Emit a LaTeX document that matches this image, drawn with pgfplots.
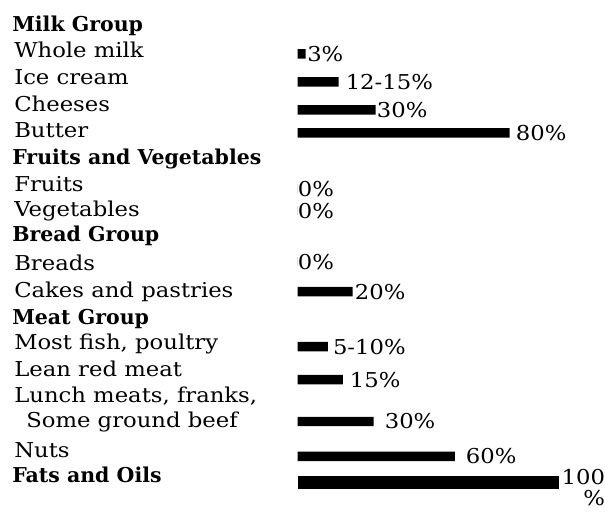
\documentclass[border=0pt]{standalone}
\usepackage{pgfplots}
\pgfplotsset{compat=1.18}
\usepackage{fontspec}
\setmainfont{DejaVu Serif}[FakeStretch=1.11]
\newfontfamily\hdrfont{DejaVu Serif}
\newcommand{\hdr}[1]{{\hdrfont\bfseries #1}}
\newcommand{\lblfont}{\fontsize{20.5}{24}\selectfont}
\begin{document}
\begin{tikzpicture}[font=\lblfont]
\begin{axis}[
  scale only axis, width=605pt, height=506pt,
  xmin=-113.74, xmax=117.18, ymin=0, ymax=506, y dir=reverse,
  axis line style={draw=none}, xtick=\empty,
  major tick length=0pt,
  ytick={32,58,85,112,138,165,192,217,242,271,298,325,350,377,403,428,458,483},
  yticklabels={\hdr{Milk Group},\hspace{2pt}Whole milk,\hspace{2pt}Ice cream,\hspace{2pt}Cheeses,\hspace{2pt}Butter,
    \hdr{Fruits and Vegetables},\hspace{2pt}Fruits,\hspace{2pt}Vegetables,
    \hdr{Bread Group},\hspace{2pt}Breads,\hspace{2pt}Cakes and pastries,
    \hdr{Meat Group},{\hspace{2pt}Most fish, poultry},\hspace{2pt}Lean red meat,{\hspace{2pt}Lunch meats, franks,},\hspace{14pt}Some ground beef,\hspace{2pt}Nuts,
    \hdr{Fats and Oils}},
  yticklabel style={anchor=base west, inner sep=0pt, xshift=12pt, font=\lblfont, text=black},
  clip=false,
]
\addplot[xbar, bar shift=0pt, bar width=9.5pt, fill=black, draw=none,
  point meta=explicit symbolic, nodes near coords,
  nodes near coords style={anchor=west, inner sep=0pt, font=\lblfont, text=black}]
coordinates {
(3,54) [\hspace{1.5pt}3\%]
(15.6,82) [\hspace{7pt}12-15\%]
(29.8,110) [\hspace{1pt}30\%]
(81,133) [\hspace{6pt}80\%]
(0,189) [0\%]
(0,211) [0\%]
(0,262) [0\%]
(21,292) [\hspace{2pt}20\%]
(11.5,347) [\hspace{5pt}5-10\%]
(17.2,380) [\hspace{7pt}15\%]
(29,422) [\hspace{11pt}30\%]
(60,457) [\hspace{11pt}60\%]
};
\addplot[xbar, bar shift=0pt, bar width=12.5pt, fill=black, draw=none,
  point meta=explicit symbolic, nodes near coords,
  nodes near coords style={anchor=west, inner sep=0pt, font=\lblfont, text=black, yshift=-8pt}]
coordinates {
(100,483) [{\hspace{2pt}\def\arraystretch{0.8}\begin{tabular}{@{}r@{}}100\\\%\end{tabular}}]
};
\end{axis}
\end{tikzpicture}
\end{document}
